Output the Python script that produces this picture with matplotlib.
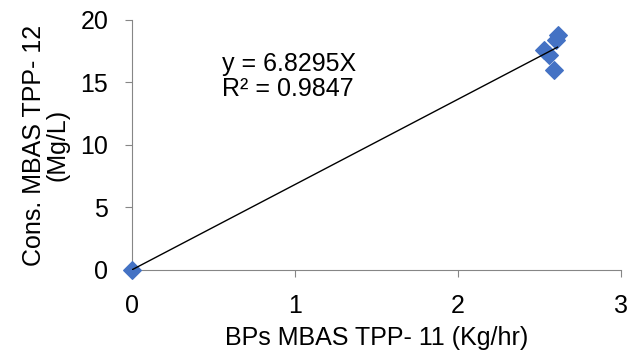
import matplotlib.pyplot as plt
import numpy as np

plt.rcParams['font.family'] = ['Liberation Sans', 'DejaVu Sans']

# BPs MBAS TPP-11 (Kg/hr) vs Cons. MBAS TPP-12 (Mg/L)
x_vals = [0.0, 2.53, 2.56, 2.59, 2.60, 2.61]
y_vals = [0.0, 17.6, 17.2, 16.0, 18.4, 18.8]
slope = 6.8295
r2 = 0.9847

fig = plt.figure(figsize=(6.43, 3.57), dpi=100)
ax = fig.add_axes([0.205, 0.244, 0.761, 0.70])

ax.scatter(x_vals, y_vals, marker='D', s=80, color='#4472C4', zorder=3,
           clip_on=False)
xl = np.array([0, max(x_vals)])
ax.plot(xl, slope * xl, color='black', lw=1, zorder=4)

ax.set_xlim(0, 3)
ax.set_ylim(0, 20)
ax.set_xticks([0, 1, 2, 3])
ax.set_yticks([0, 5, 10, 15, 20])
for s in ['top', 'right']:
    ax.spines[s].set_visible(False)
for s in ['left', 'bottom']:
    ax.spines[s].set_color('#868686')
ax.tick_params(colors='#868686', labelcolor='black', labelsize=18, length=5)
ax.tick_params(axis='y', pad=12)
ax.tick_params(axis='x', pad=12)
ax.set_xlabel('BPs MBAS TPP- 11 (Kg/hr)', fontsize=18, labelpad=6)
ax.set_ylabel('Cons. MBAS TPP- 12\n(Mg/L)', fontsize=18, labelpad=8,
              linespacing=0.95)

ax.text(0.55, 15.5, 'y = 6.8295X\nR² = 0.9847', fontsize=18, va='center',
        linespacing=1.05)

fig.savefig('out.png')
